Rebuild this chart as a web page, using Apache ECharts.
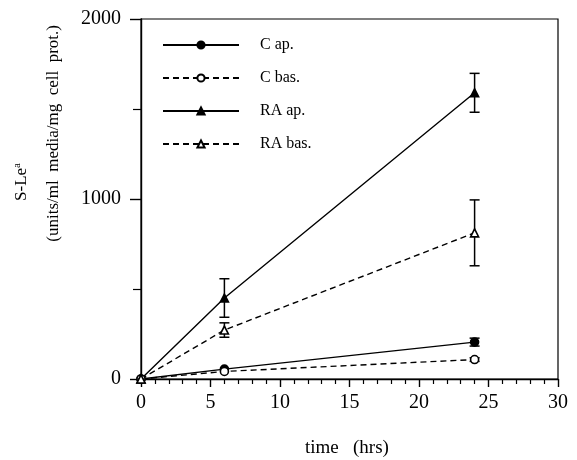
<!DOCTYPE html>
<html>
<head>
<meta charset="utf-8">
<script src="https://cdn.jsdelivr.net/npm/echarts@6/dist/echarts.min.js"></script>
<style>
  html, body { margin: 0; padding: 0; background: #fff; }
  #main { width: 577px; height: 460px; }
</style>
</head>
<body>
<div id="main"></div>
<script>
var myChart = echarts.init(document.getElementById('main'));

// time points (hrs)
var time = [0, 6, 24];
// S-Lea values, units/ml media/mg cell prot.
var cAp = [0, 55, 205];
var cApErr = [0, 0, 22];
var cBas = [0, 42, 108];
var cBasErr = [0, 0, 10];
var raAp = [0, 450, 1590];
var raApErr = [0, 107, 108];
var raBas = [0, 272, 812];
var raBasErr = [0, 40, 183];

var names = ['C ap.', 'C bas.', 'RA ap.', 'RA bas.'];
var font = 'Liberation Serif';

function pairs(vals) {
  return time.map(function (t, i) { return [t, vals[i]]; });
}
function bars(vals, errs) {
  var out = [];
  time.forEach(function (t, i) {
    if (errs[i] > 0) out.push([t, vals[i] - errs[i], vals[i] + errs[i]]);
  });
  return out;
}

function errorSeries(vals, errs) {
  return {
    type: 'custom',
    silent: true,
    z: 1,
    data: bars(vals, errs),
    renderItem: function (params, api) {
      var lo = api.coord([api.value(0), api.value(1)]);
      var hi = api.coord([api.value(0), api.value(2)]);
      var w = 5;
      var st = { stroke: '#000', lineWidth: 1.5 };
      return {
        type: 'group',
        children: [
          { type: 'line', shape: { x1: lo[0], y1: lo[1], x2: hi[0], y2: hi[1] }, style: st },
          { type: 'line', shape: { x1: lo[0] - w, y1: lo[1], x2: lo[0] + w, y2: lo[1] }, style: st },
          { type: 'line', shape: { x1: hi[0] - w, y1: hi[1], x2: hi[0] + w, y2: hi[1] }, style: st }
        ]
      };
    }
  };
}

function lineSeries(name, vals, dashed, symbol, filled) {
  return {
    name: name,
    type: 'line',
    data: pairs(vals),
    symbol: symbol,
    symbolSize: 8,
    z: 3,
    lineStyle: { color: '#000', width: 1.4, type: dashed ? [6, 4] : 'solid' },
    itemStyle: { color: filled ? '#000' : '#fff', borderColor: '#000', borderWidth: 1.6 }
  };
}

var option = {
  backgroundColor: '#fff',
  animation: false,
  grid: {
    left: 141, right: 19, top: 19, bottom: 81,
    show: true, borderColor: '#000', borderWidth: 1.2
  },
  legend: {
    data: names,
    orient: 'vertical',
    left: 157, top: 32,
    itemWidth: 76, itemHeight: 9, itemGap: 17,
    textStyle: { fontFamily: font, fontSize: 16, color: '#000', padding: [0, 0, 0, 16] }
  },
  xAxis: {
    type: 'value',
    min: 0, max: 30, interval: 5,
    axisLine: { lineStyle: { color: '#000', width: 1.4 } },
    axisTick: { length: 8, lineStyle: { color: '#000', width: 1.4 } },
    minorTick: { show: true, splitNumber: 5, length: 5, lineStyle: { color: '#000', width: 1.2 } },
    splitLine: { show: false },
    axisLabel: { fontFamily: font, fontSize: 20, color: '#000', margin: 14 }
  },
  yAxis: {
    type: 'value',
    min: 0, max: 2000, interval: 1000,
    axisLine: { lineStyle: { color: '#000', width: 1.4 } },
    axisTick: { length: 11, lineStyle: { color: '#000', width: 1.4 } },
    minorTick: { show: true, splitNumber: 2, length: 8, lineStyle: { color: '#000', width: 1.2 } },
    splitLine: { show: false },
    axisLabel: {
      fontFamily: font, fontSize: 20, color: '#000', margin: 20,
      formatter: function (v) { return String(v); }
    }
  },
  graphic: [
    {
      type: 'text', left: 12, top: 163, rotation: Math.PI / 2,
      style: {
        text: 'S-Le{sup|a}',
        rich: { sup: { fontSize: 11, verticalAlign: 'top', padding: [0, 0, 8, 0], fontFamily: font, fill: '#000' } },
        font: '17px "Liberation Serif"', fill: '#000'
      }
    },
    {
      type: 'text', left: 45, top: 25, rotation: Math.PI / 2,
      style: { text: '(units/ml  media/mg  cell  prot.)', font: '17px "Liberation Serif"', fill: '#000' }
    },
    {
      type: 'text', left: 305, top: 439,
      style: { text: 'time   (hrs)', font: '19px "Liberation Serif"', fill: '#000' }
    }
  ],
  series: [
    lineSeries(names[0], cAp, false, 'circle', true),
    lineSeries(names[1], cBas, true, 'circle', false),
    lineSeries(names[2], raAp, false, 'triangle', true),
    lineSeries(names[3], raBas, true, 'triangle', false),
    errorSeries(cAp, cApErr),
    errorSeries(cBas, cBasErr),
    errorSeries(raAp, raApErr),
    errorSeries(raBas, raBasErr)
  ]
};
myChart.setOption(option);
</script>
</body>
</html>
